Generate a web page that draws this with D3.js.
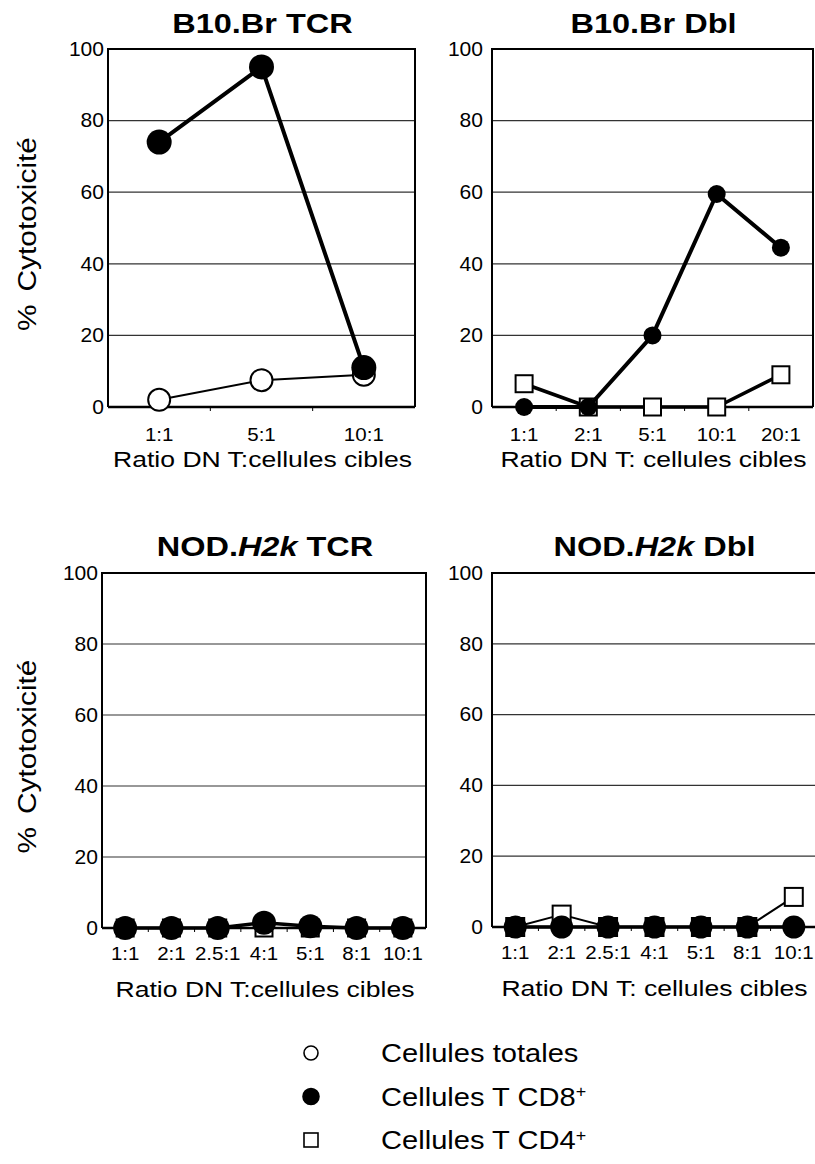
<!DOCTYPE html>
<meta charset="utf-8" />
<script src="https://d3js.org/d3.v7.min.js"></script>
<style>
  body { margin: 0; background: #fff; }
  text { font-family: "Liberation Sans", Arial, sans-serif; fill: #000; }
</style>
<body>
<div id="chart"></div>
</body>
<script>
  // ratios on the x axis of each panel
  const ratiosB10Tcr = ["1:1", "5:1", "10:1"];
  const ratiosB10Dbl = ["1:1", "2:1", "5:1", "10:1", "20:1"];
  const ratiosNod = ["1:1", "2:1", "2.5:1", "4:1", "5:1", "8:1", "10:1"];

  // % cytotoxicity
  const b10TcrTotales = [2, 7.5, 9];
  const b10TcrCD8 = [74, 95, 11];
  const b10DblCD4 = [6.5, 0, 0, 0, 9];
  const b10DblCD8 = [0, 0, 20, 59.5, 44.5];
  const nodTcrCD4 = [0, 0, 0, 0, 0, 0, 0];
  const nodTcrCD8 = [0, 0, 0, 1.5, 0.5, 0, 0];
  const nodDblCD4 = [0, 3.5, 0, 0, 0, 0, 8.5];
  const nodDblCD8 = [0, 0, 0, 0, 0, 0, 0];

  const yTicks = [0, 20, 40, 60, 80, 100];
  const legendItems = [
    {kind: "open", label: "Cellules totales", sup: ""},
    {kind: "filled", label: "Cellules T CD8", sup: "+"},
    {kind: "square", label: "Cellules T CD4", sup: "+"}
  ];

  // panel layout
  const panels = [
    {title: [["B10.Br TCR", false]], xTitle: "Ratio DN T:cellules cibles", cats: ratiosB10Tcr,
     x0: 108, x1: 415, y0: 49, y1: 407, yLabel: true, tickGap: 4, titleY: 33, tickY: 34, xTitleY: 60,
     r: 12.5, rOpen: 11, sq: 16, series: [
       {kind: "open", values: b10TcrTotales, lw: 2},
       {kind: "filled", values: b10TcrCD8, lw: 4}
     ]},
    {title: [["B10.Br Dbl", false]], xTitle: "Ratio DN T: cellules cibles", cats: ratiosB10Dbl,
     x0: 492, x1: 813, y0: 49, y1: 407, yLabel: false, tickGap: 9, titleY: 33, tickY: 34, xTitleY: 60,
     r: 9, rOpen: 9, sq: 17, series: [
       {kind: "square", values: b10DblCD4, lw: 3.5},
       {kind: "filled", values: b10DblCD8, lw: 4}
     ]},
    {title: [["NOD.", false], ["H2k", true], [" TCR", false]], xTitle: "Ratio DN T:cellules cibles", cats: ratiosNod,
     x0: 102, x1: 426, y0: 573, y1: 928, yLabel: true, tickGap: 4, titleY: 556, tickY: 32, xTitleY: 69,
     r: 12, rOpen: 11, sq: 17, series: [
       {kind: "square", values: nodTcrCD4, lw: 2},
       {kind: "filled", values: nodTcrCD8, lw: 3.5}
     ]},
    {title: [["NOD.", false], ["H2k", true], [" Dbl", false]], xTitle: "Ratio DN T: cellules cibles", cats: ratiosNod,
     x0: 492, x1: 817, y0: 573, y1: 927, yLabel: false, tickGap: 9, titleY: 556, tickY: 32, xTitleY: 69,
     r: 11.5, rOpen: 11, sq: 18, series: [
       {kind: "square", values: nodDblCD4, lw: 2},
       {kind: "filled", values: nodDblCD8, lw: 3.5}
     ]}
  ];

  const svg = d3.select("#chart").append("svg")
      .attr("width", 815)
      .attr("height", 1164);

  svg.append("rect").attr("width", 815).attr("height", 1164).attr("fill", "#fff");

  // the printed type is a bit wider than Helvetica, so stretch it horizontally
  function label(g, x, y, str, size, sx, anchor) {
    return g.append("text")
      .attr("transform", `translate(${x},${y}) scale(${sx},1)`)
      .attr("text-anchor", anchor || "middle")
      .style("font-size", size + "px")
      .text(str);
  }

  function drawMarker(g, kind, cx, cy, r, sq) {
    if (kind === "square") {
      g.append("rect")
        .attr("x", cx - sq / 2).attr("y", cy - sq / 2)
        .attr("width", sq).attr("height", sq)
        .attr("fill", "#fff").attr("stroke", "#000").attr("stroke-width", 2);
    } else if (kind === "open") {
      g.append("circle").attr("cx", cx).attr("cy", cy).attr("r", r)
        .attr("fill", "#fff").attr("stroke", "#000").attr("stroke-width", 2);
    } else {
      g.append("circle").attr("cx", cx).attr("cy", cy).attr("r", r).attr("fill", "#000");
    }
  }

  panels.forEach(function(p) {
    const g = svg.append("g");

    const band = d3.scaleBand().domain(p.cats).range([p.x0, p.x1]).padding(0);
    const x = d => band(d) + band.bandwidth() / 2;
    const y = d3.scaleLinear().domain([0, 100]).range([p.y1, p.y0]);

    // gridlines
    g.append("g").selectAll("line")
      .data(yTicks.filter(t => t > 0 && t < 100))
      .enter().append("line")
      .attr("x1", p.x0).attr("x2", p.x1)
      .attr("y1", d => y(d)).attr("y2", d => y(d))
      .attr("stroke", "#333").attr("stroke-width", 1.2);

    // frame
    g.append("path")
      .attr("d", `M${p.x0},${p.y1}V${p.y0}H${p.x1}V${p.y1}`)
      .attr("fill", "none").attr("stroke", "#000").attr("stroke-width", 2);
    g.append("line")
      .attr("x1", p.x0).attr("x2", p.x1).attr("y1", y(0)).attr("y2", y(0))
      .attr("stroke", "#000").attr("stroke-width", 2.5);

    // y axis labels
    const yAxis = g.append("g")
      .attr("transform", `translate(${p.x0 - p.tickGap},0)`)
      .call(d3.axisLeft(y).tickValues(yTicks).tickSize(0).tickPadding(0));
    yAxis.select(".domain").remove();
    yAxis.selectAll("text")
      .attr("transform", "scale(1.08,1)")
      .style("font-family", "Liberation Sans").style("font-size", "19.5px").attr("fill", "#000");

    // small x ticks at the band edges
    g.append("g").selectAll("line")
      .data(p.cats.slice(1))
      .enter().append("line")
      .attr("x1", d => band(d)).attr("x2", d => band(d))
      .attr("y1", p.y1).attr("y2", p.y1 + 4)
      .attr("stroke", "#000").attr("stroke-width", 1);

    // x tick labels
    p.cats.forEach(function(c) {
      label(g, x(c), p.y1 + p.tickY, c, 19, 1.08);
    });

    // x title
    label(g, (p.x0 + Math.min(p.x1, 815)) / 2 + 1, p.y1 + p.xTitleY, p.xTitle, 22.5, 1.18);

    // panel title
    const t = label(g, (p.x0 + Math.min(p.x1, 815)) / 2 + 1, p.titleY, "", 28, 1.16)
      .style("font-weight", "bold");
    p.title.forEach(function(part) {
      t.append("tspan").style("font-style", part[1] ? "italic" : "normal").text(part[0]);
    });

    if (p.yLabel) {
      g.append("text")
        .attr("transform", `translate(36,${(p.y0 + p.y1) / 2 + 6}) rotate(-90) scale(1.15,1)`)
        .attr("text-anchor", "middle")
        .style("font-size", "26px")
        .style("word-spacing", "4px")
        .text("% Cytotoxicité");
    }

    // series: line then markers
    p.series.forEach(function(s) {
      const pts = p.cats.map((c, i) => [x(c), y(s.values[i])]);
      g.append("path")
        .attr("d", d3.line()(pts))
        .attr("fill", "none").attr("stroke", "#000")
        .attr("stroke-width", s.lw).attr("stroke-linejoin", "round");
      const mg = g.append("g");
      pts.forEach(function(pt) {
        drawMarker(mg, s.kind, pt[0], pt[1], s.kind === "open" ? p.rOpen : p.r, p.sq);
      });
    });
  });

  // legend
  const legend = svg.append("g");
  legendItems.forEach(function(item, i) {
    const cy = 1053 + i * 43.5;
    if (item.kind === "square") {
      legend.append("rect").attr("x", 304).attr("y", cy - 7).attr("width", 14).attr("height", 14)
        .attr("fill", "#fff").attr("stroke", "#000").attr("stroke-width", 1.6);
    } else {
      legend.append("circle").attr("cx", 311).attr("cy", cy)
        .attr("r", item.kind === "open" ? 7 : 8)
        .attr("fill", item.kind === "open" ? "#fff" : "#000")
        .attr("stroke", "#000").attr("stroke-width", 1.6);
    }
    const lt = label(legend, 381, cy + 9, item.label, 26, 1.12, "start");
    if (item.sup) {
      lt.append("tspan").attr("baseline-shift", "super").style("font-size", "16px").text(item.sup);
    }
  });
</script>
